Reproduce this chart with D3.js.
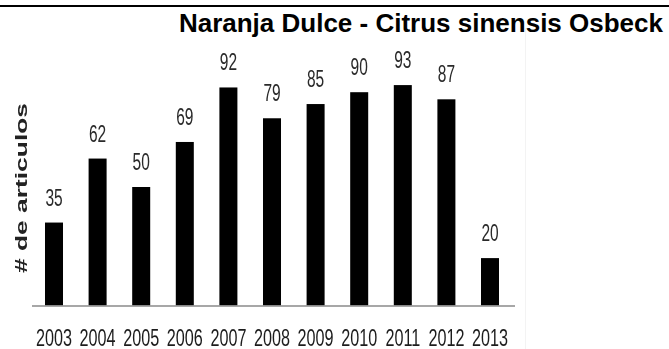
<!DOCTYPE html>
<html>
<head>
<meta charset="utf-8">
<script src="https://cdn.jsdelivr.net/npm/d3@7"></script>
<style>
  html, body { margin: 0; padding: 0; background: #fff; }
  svg { display: block; }
  text { font-family: "Liberation Sans", Arial, sans-serif; }
</style>
</head>
<body>
<svg id="chart" width="669" height="349"></svg>
<script>
// Artículos publicados por año
const years = ["2003", "2004", "2005", "2006", "2007", "2008", "2009", "2010", "2011", "2012", "2013"];
const articles = [35, 62, 50, 69, 92, 79, 85, 90, 93, 87, 20];
const titleText = "Naranja Dulce - Citrus sinensis Osbeck";
const yLabel = "# de articulos";

const W = 669, H = 349;
const svg = d3.select("#chart");

// soft edge for the plot panel, which is a scanned bitmap in print
const defs = svg.append("defs");
defs.append("filter").attr("id", "soft")
  .append("feGaussianBlur").attr("stdDeviation", 0.45);

// top rule across the page
svg.append("rect").attr("x", 0).attr("y", 5).attr("width", W).attr("height", 2).attr("fill", "#000");

// title, right aligned
svg.append("text")
  .attr("x", 663).attr("y", 31.5)
  .attr("text-anchor", "end")
  .attr("font-size", 26).attr("font-weight", "bold")
  .attr("fill", "#000")
  .text(titleText);

// faint frame edge of the plot panel
svg.append("line")
  .attr("x1", 525.5).attr("x2", 525.5).attr("y1", 28).attr("y2", H)
  .attr("stroke", "#f3f3f3").attr("stroke-width", 1);

const x = d3.scaleBand()
  .domain(years)
  .range([32.2, 511.8])
  .paddingInner(0.587)
  .paddingOuter(0.2935);

const y = d3.scaleLinear().domain([0, 100]).range([305.5, 68.5]);

const plot = svg.append("g").attr("filter", "url(#soft)");
const rows = years.map((yr, i) => ({ yr, v: articles[i] }));

// bars
plot.selectAll("rect.bar")
  .data(rows)
  .join("rect")
  .attr("class", "bar")
  .attr("x", d => x(d.yr))
  .attr("width", x.bandwidth())
  .attr("y", d => y(d.v))
  .attr("height", d => y(0) - y(d.v))
  .attr("fill", "#000");

// baseline
plot.append("line")
  .attr("x1", 32).attr("x2", 515)
  .attr("y1", y(0) + 0.5).attr("y2", y(0) + 0.5)
  .attr("stroke", "#8a8a8a").attr("stroke-width", 1.5);

// value labels above bars (narrow, tall digits)
plot.selectAll("text.val")
  .data(rows)
  .join("text")
  .attr("class", "val")
  .attr("transform", d => `translate(${x(d.yr) + x.bandwidth() / 2}, ${y(d.v) - 17}) scale(0.66, 1)`)
  .attr("text-anchor", "middle")
  .attr("font-size", 23.5)
  .attr("fill", "#2a2a2a")
  .text(d => d.v);

// year labels along the bottom
const xAxis = d3.axisBottom(x).tickSize(0).tickPadding(0);
const axisG = plot.append("g")
  .attr("transform", `translate(0, 345.5)`)
  .call(xAxis);
axisG.select(".domain").remove();
axisG.selectAll("text")
  .attr("y", 0)
  .attr("dy", null)
  .attr("transform", "scale(0.69, 1)")
  .attr("font-size", 23.5)
  .attr("font-family", "\"Liberation Sans\", Arial, sans-serif")
  .attr("fill", "#1e1e1e");

// rotated axis title
plot.append("text")
  .attr("transform", "translate(27, 188) rotate(-90)")
  .attr("text-anchor", "middle")
  .attr("font-size", 16.5)
  .attr("font-weight", "bold")
  .attr("fill", "#222")
  .attr("textLength", 170)
  .attr("lengthAdjust", "spacingAndGlyphs")
  .text(yLabel);
</script>
</body>
</html>
